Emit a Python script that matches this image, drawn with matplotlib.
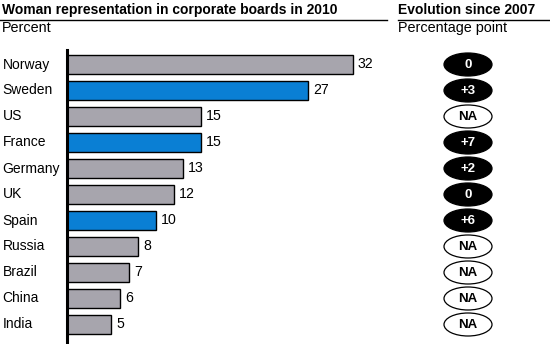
import matplotlib
matplotlib.use("Agg")
import matplotlib.pyplot as plt
from matplotlib.patches import Ellipse
from matplotlib.lines import Line2D

plt.rcParams['font.family'] = ['Liberation Sans', 'DejaVu Sans']

countries = ["Norway", "Sweden", "US", "France", "Germany", "UK",
             "Spain", "Russia", "Brazil", "China", "India"]
share_2010 = [32, 27, 15, 15, 13, 12, 10, 8, 7, 6, 5]
highlight = [False, True, False, True, False, False, True, False, False, False, False]
evolution = ["0", "+3", "NA", "+7", "+2", "0", "+6", "NA", "NA", "NA", "NA"]

GREY = "#a7a5ad"
BLUE = "#0a7fd4"

W, H = 550, 344
fig = plt.figure(figsize=(W / 100, H / 100), dpi=100)

def px(x0, y0, x1, y1):
    # pixel box (top-left origin) -> figure fraction rect
    return [x0 / W, 1 - y1 / H, (x1 - x0) / W, (y1 - y0) / H]

# row layout: first row centre at y=64.5px, 26px apart, axes from 50px to the bottom
row_c0, row_step = 64.5, 26.0
row_top = (50 - row_c0) / row_step
row_bot = (H - row_c0) / row_step
unit = 8.94  # pixels per percent

ax = fig.add_axes(px(66.5, 50, 550, H))
ax.set_xlim(0, (550 - 66.5) / unit)
ax.set_ylim(row_bot, row_top)
ypos = list(range(len(countries)))
colors = [BLUE if h else GREY for h in highlight]
ax.barh(ypos, share_2010, height=0.73, color=colors, edgecolor="black", linewidth=1.0)
for y, v in zip(ypos, share_2010):
    ax.text(v + 0.6, y, str(v), va="center", ha="left", fontsize=10.2)
for y, c in zip(ypos, countries):
    ax.text(-64 / 483.5, y, c, transform=ax.get_yaxis_transform(),
            va="center", ha="left", fontsize=10)
for s in ["top", "right", "bottom"]:
    ax.spines[s].set_visible(False)
ax.spines["left"].set_linewidth(2.2)
ax.set_xticks([])
ax.set_yticks([])

# evolution column
ax2 = fig.add_axes(px(380, 50, 550, H))
ax2.set_xlim(0, 1)
ax2.set_ylim(row_bot, row_top)
ax2.axis("off")
cx = (468 - 380) / 170
for y, e in zip(ypos, evolution):
    na = e == "NA"
    ax2.add_patch(Ellipse((cx, y), 48 / 170, 23 / row_step,
                          facecolor="white" if na else "black",
                          edgecolor="black", linewidth=0.9))
    ax2.text(cx, y, e, ha="center", va="center", fontsize=9.5, fontweight="bold",
             color="black" if na else "white")

# headers
fig.text(2 / W, 1 - 10 / H, "Woman representation in corporate boards in 2010",
         fontsize=10, fontweight="bold", va="center", ha="left")
fig.text(2 / W, 1 - 27.5 / H, "Percent", fontsize=10.4, va="center", ha="left")
fig.text(398 / W, 1 - 10 / H, "Evolution since 2007",
         fontsize=10, fontweight="bold", va="center", ha="left")
fig.text(398 / W, 1 - 28 / H, "Percentage point", fontsize=10.4, va="center", ha="left")
fig.add_artist(Line2D([0, 387 / W], [1 - 19.5 / H] * 2, color="black", linewidth=1.0))
fig.add_artist(Line2D([398 / W, 550 / W], [1 - 19.5 / H] * 2, color="black", linewidth=1.0))

fig.savefig("out.png", dpi=100)
